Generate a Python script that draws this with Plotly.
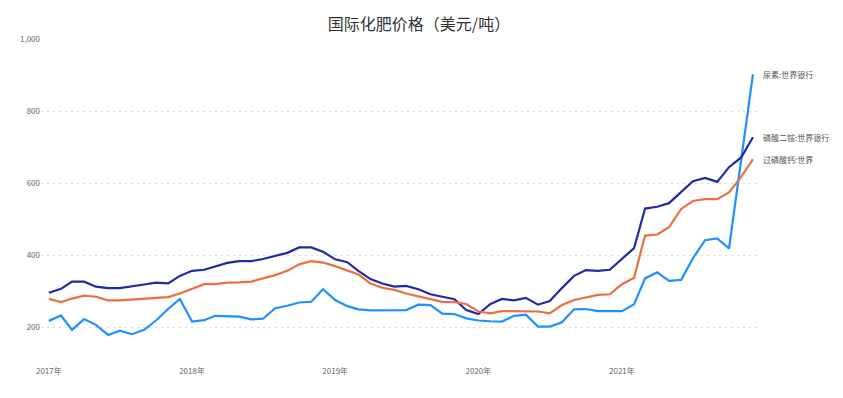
import plotly.graph_objects as go
import pandas as pd

months = pd.date_range("2017-01-01", "2021-12-01", freq="MS").strftime("%Y-%m-%d").tolist()

dap = [295, 306, 326, 326, 312, 308, 308, 312, 318, 323, 321, 342,
       356, 359, 369, 378, 383, 383, 389, 398, 406, 421, 421, 409,
       388, 380, 356, 333, 321, 312, 314, 305, 291, 284, 277, 247,
       236, 264, 278, 274, 281, 262, 272, 308, 342, 358, 356, 359,
       388, 419, 529, 534, 544, 576, 605, 614, 603, 644, 671, 727]

ssp = [278, 269, 279, 287, 284, 274, 274, 276, 279, 281, 283, 293,
       307, 319, 319, 323, 324, 326, 335, 344, 356, 374, 383, 379,
       369, 358, 346, 321, 309, 303, 293, 285, 277, 270, 269, 264,
       243, 238, 244, 244, 244, 243, 238, 261, 275, 281, 289, 291,
       319, 337, 454, 457, 477, 528, 550, 555, 555, 574, 617, 666]

urea = [217, 232, 192, 222, 206, 178, 190, 180, 192, 218, 250, 278,
        215, 219, 231, 231, 229, 221, 223, 252, 259, 268, 270, 305,
        275, 258, 249, 246, 246, 246, 247, 262, 261, 237, 236, 224,
        218, 216, 215, 231, 234, 201, 201, 213, 249, 250, 244, 244,
        244, 263, 335, 352, 328, 331, 391, 441, 446, 418, 662, 902]

series_names = ["尿素:世界银行", "磷酸二铵:世界银行", "过磷酸钙:世界"]
series_values = [urea, dap, ssp]
series_colors = ["#1e90ff", "#1f2b9e", "#ec6f3f"]

year_ticks = ["2017-01-01", "2018-01-01", "2019-01-01", "2020-01-01", "2021-01-01"]
year_labels = ["2017年", "2018年", "2019年", "2020年", "2021年"]
y_ticks = [200, 400, 600, 800, 1000]

FONT = "Noto Sans CJK SC, Noto Sans, sans-serif"

fig = go.Figure()
for name, vals, col in zip(series_names, series_values, series_colors):
    fig.add_trace(go.Scatter(x=months, y=vals, mode="lines", name=name,
                             line=dict(color=col, width=2.2), hoverinfo="x+y+name"))
    fig.add_annotation(x=months[-1], y=vals[-1], text=name, showarrow=False,
                       xanchor="left", yanchor="middle", xshift=8,
                       font=dict(family=FONT, size=8, color="#555555"))

W, H = 835, 390
fig.update_layout(
    width=W, height=H,
    margin=dict(l=28, r=83, t=31, b=44),
    paper_bgcolor="white", plot_bgcolor="white",
    showlegend=False,
    font=dict(family=FONT, size=8, color="#666666"),
    title=dict(text="国际化肥价格（美元/吨）", x=411 / W, xref="container", xanchor="center",
               y=1 - 16 / H, yref="container", yanchor="middle",
               font=dict(family=FONT, size=16, color="#333333")),
    xaxis=dict(type="date", range=["2016-12-12", "2021-12-19"],
               tickvals=year_ticks, ticktext=year_labels,
               showgrid=False, zeroline=False, showline=False, ticks="",
               ticklabelstandoff=11,
               tickfont=dict(family=FONT, size=8, color="#666666")),
    yaxis=dict(range=[125, 1000], tickvals=y_ticks, tickformat=",",
               showgrid=True, gridcolor="#d9d9d9", griddash="2px,4px", gridwidth=1,
               zeroline=False, showline=False, ticks="",
               tickfont=dict(family=FONT, size=8, color="#666666")),
)

fig.write_html("out.html")
